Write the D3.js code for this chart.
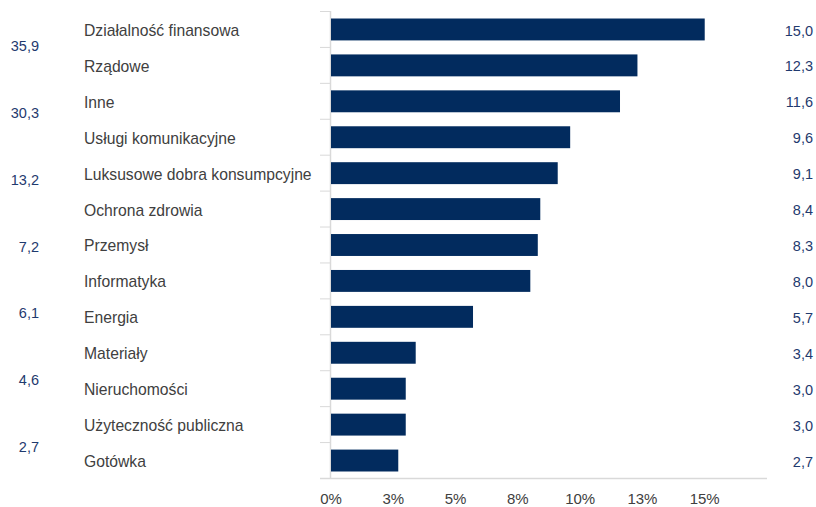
<!DOCTYPE html>
<html>
<head>
<meta charset="utf-8">
<script src="https://cdn.jsdelivr.net/npm/d3@7"></script>
<style>
  body { margin: 0; background: #fff; }
  svg text { font-family: "Liberation Sans", Arial, sans-serif; }
</style>
</head>
<body>
<div id="chart"></div>
<script>
    "use strict";

    var categories = ["Działalność finansowa", "Rządowe", "Inne", "Usługi komunikacyjne",
        "Luksusowe dobra konsumpcyjne", "Ochrona zdrowia", "Przemysł", "Informatyka",
        "Energia", "Materiały", "Nieruchomości", "Użyteczność publiczna", "Gotówka"];
    var values = [15.0, 12.3, 11.6, 9.6, 9.1, 8.4, 8.3, 8.0, 5.7, 3.4, 3.0, 3.0, 2.7];
    // second column of numbers on the far left (spread evenly over the plot)
    var leftValues = [35.9, 30.3, 13.2, 7.2, 6.1, 4.6, 2.7];
    var tickValues = [0, 2.5, 5, 7.5, 10, 12.5, 15];
    var tickLabels = ["0%", "3%", "5%", "8%", "10%", "13%", "15%"];

    var W = 816, H = 507;
    var fmt = function (v) { return v.toFixed(1).replace(".", ","); };

    var svg = d3.select("#chart").append("svg")
        .attr("width", W).attr("height", H);

    var x = d3.scaleLinear().domain([0, 17.5]).range([331, 767]);
    var y = d3.scaleBand().domain(categories).range([11.5, 478.5])
        .paddingInner(0.39).paddingOuter(0.195);
    var yLeft = d3.scaleBand().domain(d3.range(leftValues.length)).range([11.5, 478.5]);

    // category boundary ticks on the left
    var step = y.step();
    var bounds = d3.range(categories.length + 1).map(function (i) { return 11.5 + i * step; });
    svg.append("g").selectAll("line").data(bounds).enter().append("line")
        .attr("x1", 320).attr("x2", 330.5)
        .attr("y1", function (d) { return d; }).attr("y2", function (d) { return d; })
        .attr("stroke", "#d9d9d9").attr("stroke-width", 1);

    // vertical axis line
    svg.append("line").attr("x1", 330.5).attr("x2", 330.5).attr("y1", 11).attr("y2", 479)
        .attr("stroke", "#d9d9d9").attr("stroke-width", 1.5);

    // bars
    svg.append("g").selectAll("rect").data(values).enter().append("rect")
        .attr("x", x(0))
        .attr("y", function (d, i) { return y(categories[i]); })
        .attr("width", function (d) { return x(d) - x(0); })
        .attr("height", y.bandwidth())
        .attr("fill", "#022b5e");

    // baseline
    svg.append("line").attr("x1", 320).attr("x2", 767).attr("y1", 478.5).attr("y2", 478.5)
        .attr("stroke", "#d9d9d9").attr("stroke-width", 1.5);

    // x tick labels
    svg.append("g").selectAll("text").data(tickValues).enter().append("text")
        .attr("x", function (d) { return x(d); })
        .attr("y", 504)
        .attr("text-anchor", "middle")
        .attr("font-size", 15)
        .attr("fill", "#404040")
        .text(function (d, i) { return tickLabels[i]; });

    // category labels
    svg.append("g").selectAll("text").data(categories).enter().append("text")
        .attr("x", 84)
        .attr("y", function (d) { return y(d) + y.bandwidth() / 2 + 1; })
        .attr("dy", "0.35em")
        .attr("font-size", 15.7)
        .attr("fill", "#404040")
        .text(function (d) { return d; });

    // value labels on the right
    svg.append("g").selectAll("text").data(values).enter().append("text")
        .attr("x", 813)
        .attr("y", function (d, i) { return y(categories[i]) + y.bandwidth() / 2 + 1; })
        .attr("dy", "0.35em")
        .attr("text-anchor", "end")
        .attr("font-size", 14.5)
        .attr("fill", "#1f3a6e")
        .text(fmt);

    // left numbers
    svg.append("g").selectAll("text").data(leftValues).enter().append("text")
        .attr("x", 39)
        .attr("y", function (d, i) { return yLeft(i) + yLeft.bandwidth() / 2 + 1.5; })
        .attr("dy", "0.35em")
        .attr("text-anchor", "end")
        .attr("font-size", 14.5)
        .attr("fill", "#1f3a6e")
        .text(fmt);
</script>
</body>
</html>
